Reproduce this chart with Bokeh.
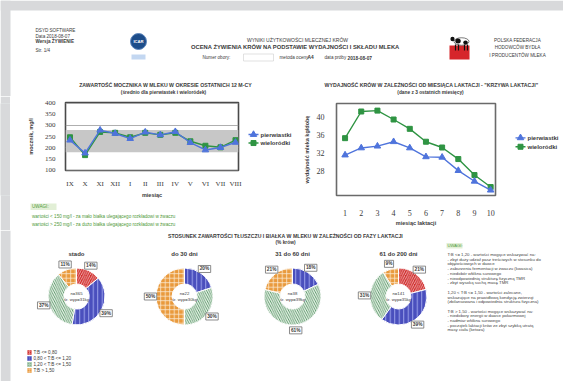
import math
from bokeh.plotting import figure
from bokeh.layouts import column, row
from bokeh.models import Range1d, FixedTicker, BoxAnnotation, ColumnDataSource
from bokeh.core.properties import value
from bokeh.embed import file_html
from bokeh.resources import INLINE

# ---------------- data ----------------
# urea in milk, last 12 months (mg/l)
months = ["IX", "X", "XI", "XII", "I", "II", "III", "IV", "V", "VI", "VII", "VIII"]
urea_primiparous = [234, 176, 279, 264, 241, 270, 258, 272, 223, 190, 201, 224]
urea_multiparous = [247, 167, 271, 267, 247, 267, 258, 267, 229, 209, 202, 234]
urea_ticks = [100, 150, 200, 250, 300, 350, 400]
urea_grid = [100, 200, 300, 400]
urea_norm = [180, 280]

# lactation curve (kg/day)
lactation_month = [1, 2, 3, 4, 5, 6, 7, 8, 9, 10]
yield_primiparous = [31.5, 33.1, 33.5, 34.5, 33.1, 31.1, 31.0, 28.0, 25.6, 23.6]
yield_multiparous = [35.3, 41.3, 41.5, 39.5, 37.4, 34.5, 33.2, 30.6, 27.0, 24.3]
yield_ticks = [28, 32, 36, 40]

series_names = ["pierwiastki", "wieloródki"]

# fat:protein ratio classes, % of cows per lactation phase
tb_classes = ["T:B <= 0,80", "0,80 < T:B <= 1,20", "1,20 < T:B <= 1,50", "T:B > 1,50"]
phase_names = ["stado", "do 30 dni", "31 do 60 dni", "61 do 200 dni"]
share_stado = [14, 39, 37, 11]
share_30 = [0, 20, 30, 50]
share_60 = [0, 18, 61, 21]
share_200 = [21, 39, 31, 9]
phase_n = [365, 22, 38, 141]
phase_avg_yield = [31, 30, 39, 35]

# ---------------- styles ----------------
SANS_NAME = "Liberation Sans"
SERIF_NAME = "Liberation Serif"
SANS = value(SANS_NAME)
GRAY = "#d8d9db"
INK = "#3a3a3a"
GREEN_NOTE = "#4f9a3a"
BLUE = "#4f74dc"
GREEN = "#2f9443"
SERIES_COLOR = [BLUE, GREEN]
SERIES_MARKER = ["triangle", "square"]
SERIES_SIZE = [6.5, 5]
CLASS_FILL = ["#d12b2b", "#4a4fbd", "#5a9868", "#e99a3d"]
CLASS_HATCH = ["/", "|", "\\", "+"]
CLASS_HATCH_COLOR = ["#f3c9c9", "#9ca2ea", "#eef5ee", "#fbe9d2"]
CLASS_HATCH_WEIGHT = [0.8, 1.0, 1.2, 0.8]


def canvas(x0, y0, w, h, bg="white"):
    """Blank drawing area whose data units are page pixels (page y is drawn as -y)."""
    return figure(width=w, height=h, x_range=Range1d(x0, x0 + w),
                  y_range=Range1d(-(y0 + h), -y0), x_axis_type=None, y_axis_type=None,
                  toolbar_location=None, output_backend="svg", min_border=0,
                  outline_line_color=None, background_fill_color=bg,
                  border_fill_color=bg)


def put(p, x, y, txt, size, bold=False, color=INK, align="left"):
    p.text(x=[x], y=[-y], text=[txt], text_font=SANS, text_font_size=f"{size}px",
           text_font_style="bold" if bold else "normal", text_color=color,
           text_align=align, text_baseline="middle")


def style_axes(p, tick_size):
    for ax in (p.xaxis[0], p.yaxis[0]):
        ax.axis_line_color = None
        ax.major_tick_line_color = None
        ax.minor_tick_line_color = None
        ax.major_label_text_font = SERIF_NAME
        ax.major_label_text_font_size = tick_size
        ax.major_label_text_color = INK
        ax.axis_label_text_font = SANS_NAME
        ax.axis_label_text_font_size = "5.5px"
        ax.axis_label_text_font_style = "bold"
        ax.axis_label_text_color = INK


def series_key(p, x, ys):
    """Line-and-marker key for the two cow groups."""
    for k, (name, yy) in enumerate(zip(series_names, ys)):
        p.segment(x0=[x], y0=[-yy], x1=[x + 10], y1=[-yy], line_color=SERIES_COLOR[k], line_width=1.4)
        p.scatter(x=[x + 5], y=[-yy], marker=SERIES_MARKER[k], size=SERIES_SIZE[k],
                  fill_color=SERIES_COLOR[k], line_color=SERIES_COLOR[k])
        put(p, x + 12, yy, name, 6, bold=True)


# ---------------- header ----------------
head = canvas(0, 0, 563, 96)
head.quad(left=[0], right=[563], top=[0], bottom=[-10], fill_color=GRAY, line_color=None)
head.quad(left=[0], right=[10], top=[0], bottom=[-96], fill_color=GRAY, line_color=None)

put(head, 35, 30, "DSYD SOFTWARE", 4.6)
put(head, 35, 35.5, "Data 2018-08-07", 4.6)
put(head, 35, 41, "Wersja ŻYWIENIE", 4.6, bold=True)
put(head, 35, 50, "Str. 1/4", 4.6)

head.circle(x=[138], y=[-41], radius=8, fill_color="#1d4d8a", line_color="#5d86bd", line_width=1)
put(head, 138, 41, "ICAR", 4.2, bold=True, color="white", align="center")
head.quad(left=[131], right=[145], top=[-54], bottom=[-59], fill_color="#c3d7f1", line_color=None)

put(head, 297, 39.5, "WYNIKI UŻYTKOWOŚCI MLECZNEJ KRÓW", 5, align="center")
put(head, 295, 46.5, "OCENA ŻYWIENIA KRÓW NA PODSTAWIE WYDAJNOŚCI I SKŁADU MLEKA", 5.8,
    bold=True, align="center")
put(head, 202, 57, "Numer obory:", 4.6)
head.quad(left=[243], right=[273], top=[-53.5], bottom=[-60.5], fill_color="white",
          line_color="#cfcfcf", line_width=0.6)
put(head, 279, 57, "metoda oceny", 4.6)
put(head, 307, 57, "A4", 4.8, bold=True)
put(head, 324, 57, "data próby", 4.6)
put(head, 347, 57, "2018-08-07", 4.8, bold=True)

# breeders' federation logo
head.quad(left=[449], right=[469], top=[-45], bottom=[-59], fill_color="#d6262b", line_color=None)
head.ellipse(x=[461], y=[-41], width=15, height=7.5, fill_color="white", line_color="#222", line_width=0.6)
head.ellipse(x=[457.5, 465], y=[-40.5, -42], width=[5.5, 4.5], height=[5, 4], fill_color="#111", line_color=None)
head.ellipse(x=[452], y=[-38.5], width=[4.2], height=[4.5], fill_color="#111", line_color=None)
head.segment(x0=[455, 458, 464, 467], y0=[-44, -44, -44, -44], x1=[455, 458, 464, 467],
             y1=[-50, -50, -50, -50], line_color="#111", line_width=1.2)
put(head, 517, 39.5, "POLSKA FEDERACJA", 4.6, align="center")
put(head, 517, 46.5, "HODOWCÓW BYDŁA", 4.6, align="center")
put(head, 517, 54.5, "I PRODUCENTÓW MLEKA", 4.6, align="center")

put(head, 165, 84, "ZAWARTOŚĆ MOCZNIKA W MLEKU W OKRESIE OSTATNICH 12 M-CY", 5.2,
    bold=True, align="center")
put(head, 163, 91.5, "(średnio dla pierwiastek i wieloródek)", 4.8, bold=True, align="center")
put(head, 431, 84, "WYDAJNOŚĆ KRÓW W ZALEŻNOŚCI OD MIESIĄCA LAKTACJI - \"KRZYWA LAKTACJI\"",
    5.2, bold=True, align="center")
put(head, 430, 91.5, "(dane z 3 ostatnich miesięcy)", 4.8, bold=True, align="center")

# ---------------- urea chart ----------------
urea = figure(width=236, height=104, x_range=Range1d(0.7, 12.2), y_range=Range1d(98, 403),
              toolbar_location=None, output_backend="svg",
              min_border_left=55, min_border_right=8, min_border_top=6, min_border_bottom=18,
              background_fill_color="white", border_fill_color="white",
              outline_line_color="#4a4a4a", outline_line_width=1.6)
urea.add_layout(BoxAnnotation(bottom=urea_norm[0], top=urea_norm[1], fill_color="#c7c7c7",
                              fill_alpha=1.0, line_color=None, level="underlay"))
mx = list(range(1, len(months) + 1))
for vals, k in ((urea_multiparous, 1), (urea_primiparous, 0)):
    urea.line(mx, vals, line_color=SERIES_COLOR[k], line_width=1.4)
    urea.scatter(mx, vals, marker=SERIES_MARKER[k], size=SERIES_SIZE[k],
                 fill_color=SERIES_COLOR[k], line_color=SERIES_COLOR[k])

urea.xaxis.ticker = FixedTicker(ticks=mx)
urea.xaxis.major_label_overrides = {i: m for i, m in zip(mx, months)}
urea.yaxis.ticker = FixedTicker(ticks=urea_ticks)
urea.xaxis.axis_label = "miesiąc"
urea.yaxis.axis_label = "mocznik, mg/l"
style_axes(urea, "7px")
urea.xaxis.major_label_standoff = 3
urea.xaxis.axis_label_standoff = 1
urea.yaxis.major_label_standoff = 4
urea.yaxis.axis_label_standoff = 8
urea.xgrid.visible = False
urea.ygrid.ticker = FixedTicker(ticks=urea_grid)
urea.ygrid.grid_line_color = "#9a9a9a"
urea.ygrid.grid_line_width = 0.8

urea_key = canvas(246, 96, 54, 104)
series_key(urea_key, 248, [145, 158])

# ---------------- notes under urea chart ----------------
notes = canvas(10, 200, 290, 30)
notes.quad(left=[30], right=[56], top=[-203], bottom=[-209.5], fill_color="#e2efd6", line_color=None)
put(notes, 31.5, 206.3, "UWAGI:", 4.6, color=GREEN_NOTE)
put(notes, 31.5, 216, "wartości < 150 mg/l - za mało białka ulegającego rozkładowi w żwaczu",
    4.6, color=GREEN_NOTE)
put(notes, 31.5, 224, "wartości > 250 mg/l - za dużo białka ulegającego rozkładowi w żwaczu",
    4.6, color=GREEN_NOTE)

strip = canvas(0, 96, 10, 134, bg=GRAY)
strip.quad(left=[0], right=[10], top=[-96], bottom=[-230], fill_color=GRAY, line_color=None)

# ---------------- lactation curve ----------------
lact = figure(width=205, height=134, x_range=Range1d(0.47, 10.3), y_range=Range1d(22.4, 43.1),
              toolbar_location=None, output_backend="svg",
              min_border_left=33, min_border_right=10, min_border_top=7, min_border_bottom=35,
              background_fill_color="white", border_fill_color="white",
              outline_line_color="#6a6a6a", outline_line_width=1.6)
for vals, k in ((yield_multiparous, 1), (yield_primiparous, 0)):
    lact.line(lactation_month, vals, line_color=SERIES_COLOR[k], line_width=1.4)
    lact.scatter(lactation_month, vals, marker=SERIES_MARKER[k], size=SERIES_SIZE[k],
                 fill_color=SERIES_COLOR[k], line_color=SERIES_COLOR[k])
lact.xaxis.ticker = FixedTicker(ticks=lactation_month)
lact.yaxis.ticker = FixedTicker(ticks=yield_ticks)
lact.xaxis.axis_label = "miesiąc laktacji"
lact.yaxis.axis_label = "wydajność mleka kg/dobę"
style_axes(lact, "8px")
lact.xaxis.major_label_standoff = 8
lact.xaxis.axis_label_standoff = 1
lact.yaxis.major_label_standoff = 6
lact.yaxis.axis_label_standoff = 4
lact.grid.visible = False

lact_key = canvas(505, 96, 58, 134)
series_key(lact_key, 515, [146, 159])

# ---------------- fat:protein donuts ----------------
bottom = canvas(0, 230, 563, 151)
bottom.quad(left=[0], right=[10], top=[-230], bottom=[-381], fill_color=GRAY, line_color=None)
put(bottom, 285, 235.5,
    "STOSUNEK ZAWARTOŚCI TŁUSZCZU I BIAŁKA W MLEKU W ZALEŻNOŚCI OD FAZY LAKTACJI",
    5.2, bold=True, align="center")
put(bottom, 285, 241.5, "(% krów)", 4.8, bold=True, align="center")

R_IN, R_OUT, R_LAB = 12.5, 28.5, 34
centers = [76, 184, 292, 398]
CY = 296
for cx, name, shares, n, avg in zip(centers, phase_names,
                                    [share_stado, share_30, share_60, share_200],
                                    phase_n, phase_avg_yield):
    total = float(sum(shares))
    wed = dict(start=[], end=[], fill=[], hatch=[], hcol=[], hw=[])
    lab = dict(x=[], y=[], text=[], w=[])
    c = 0.0
    for k, s in enumerate(shares):
        if s <= 0:
            continue
        a0 = math.pi / 2 - 2 * math.pi * c / total
        c += s
        a1 = math.pi / 2 - 2 * math.pi * c / total
        wed["start"].append(a0)
        wed["end"].append(a1)
        wed["fill"].append(CLASS_FILL[k])
        wed["hatch"].append(CLASS_HATCH[k])
        wed["hcol"].append(CLASS_HATCH_COLOR[k])
        wed["hw"].append(CLASS_HATCH_WEIGHT[k])
        mid = (a0 + a1) / 2
        txt = f"{s}%"
        lab["x"].append(cx + R_LAB * math.cos(mid))
        lab["y"].append(-CY + R_LAB * math.sin(mid))
        lab["text"].append(txt)
        lab["w"].append(3.3 * len(txt) + 2.5)
    bottom.annular_wedge(x=cx, y=-CY, inner_radius=R_IN, outer_radius=R_OUT,
                         start_angle="start", end_angle="end", direction="clock",
                         fill_color="fill", hatch_pattern="hatch", hatch_color="hcol",
                         hatch_scale=4.5, hatch_weight="hw", line_color="white", line_width=1,
                         source=ColumnDataSource(wed))
    ls = ColumnDataSource(lab)
    bottom.rect(x="x", y="y", width="w", height=7, fill_color="white", line_color="#6f6f6f",
                line_width=0.8, source=ls)
    bottom.text(x="x", y="y", text="text", text_font=SANS, text_font_size="4.8px",
                text_font_style="bold", text_color=INK, text_align="center",
                text_baseline="middle", source=ls)
    put(bottom, cx, 253, name, 6, bold=True, align="center")
    put(bottom, cx, 293, f"n={n}", 4.3, align="center")
    put(bottom, cx, 299, f"śr. wyp={avg}kg", 4.3, align="center")

# class legend
for i, lbl in enumerate(tb_classes):
    yy = 352 + 6 * i
    bottom.rect(x=[29], y=[-yy], width=4.5, height=4.5, fill_color=CLASS_FILL[i],
                hatch_pattern=CLASS_HATCH[i], hatch_color=CLASS_HATCH_COLOR[i],
                hatch_scale=2, hatch_weight=0.6, line_color=None)
    put(bottom, 33, yy, lbl, 4.6)

# interpretation notes
bottom.quad(left=[446], right=[462], top=[-242.5], bottom=[-248], fill_color="#e2efd6", line_color=None)
put(bottom, 447, 245.3, "UWAGI:", 4.2, color=GREEN_NOTE)
note_lines = [
    (254.0, "T:B <= 1,20 - wartości mogące wskazywać na:"),
    (258.7, "- zbyt duży udział pasz treściwych w stosunku do"),
    (263.4, "objętościowych w dawce"),
    (268.1, "- zaburzenia fermentacji w żwaczu (kwasica)"),
    (272.8, "- niedobór włókna surowego"),
    (277.5, "- nieodpowiednią strukturę fizyczną TMR"),
    (282.2, "- zbyt wysoką suchą masę TMR"),
    (292.0, "1,20 < T:B <= 1,50 - wartości zalecane,"),
    (296.7, "wskazujące na prawidłową kondycję zwierząt"),
    (301.4, "(zbilansowana i odpowiednia struktura fizyczna)"),
    (310.6, "T:B > 1,50 - wartości mogące wskazywać na:"),
    (315.3, "- niedobory energii w dawce pokarmowej"),
    (320.0, "- nadmiar włókna surowego"),
    (324.7, "- początek laktacji krów ze zbyt szybką utratą"),
    (329.4, "masy ciała (ketoza)"),
]
for yy, t in note_lines:
    put(bottom, 447, yy, t, 4.3, color="#444444")

page = column(head,
              row(strip,
                  column(row(urea, urea_key, spacing=0), notes, spacing=0),
                  lact, lact_key, spacing=0),
              bottom, spacing=0)

with open("out.html", "w") as f:
    f.write(file_html(page, INLINE))
